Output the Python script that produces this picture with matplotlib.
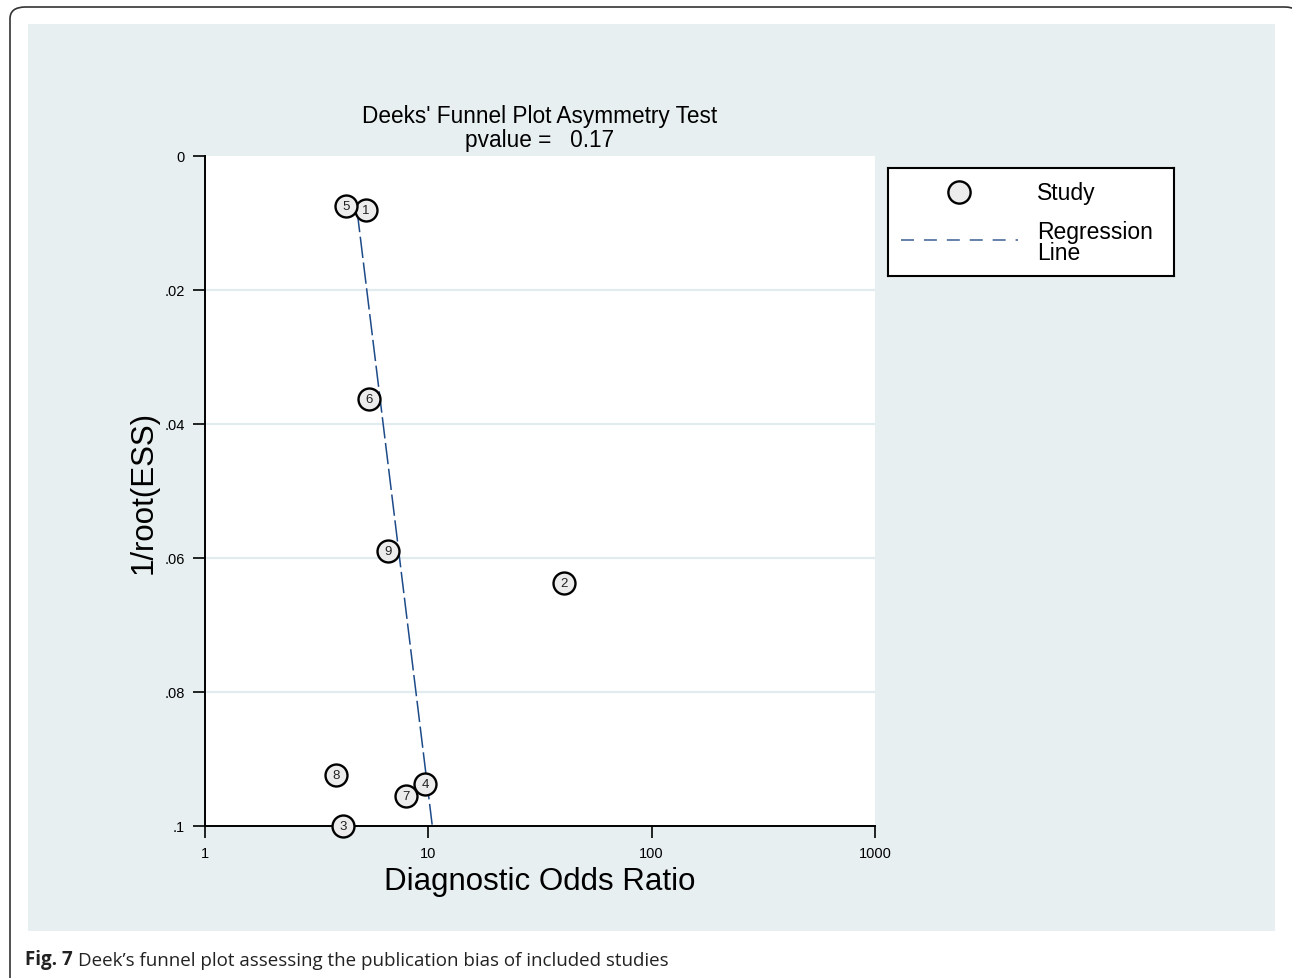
import matplotlib
matplotlib.use("Agg")
import matplotlib.pyplot as plt
import numpy as np
from matplotlib.patches import Rectangle, FancyBboxPatch
from matplotlib.lines import Line2D

# data
study_ids = ["1", "2", "3", "4", "5", "6", "7", "8", "9"]
dor = [5.26, 40.5, 4.15, 9.67, 4.28, 5.42, 7.95, 3.86, 6.60]
inv_root_ess = [0.0081, 0.0637, 0.1000, 0.0937, 0.0075, 0.0363, 0.0955, 0.0924, 0.0590]
# regression line: log10(DOR) = a + b * 1/root(ESS)
reg_a = 0.651
reg_b = 3.668
reg_y = [0.0082, 0.0998]
pvalue = 0.17

ytick_vals = [0, 0.02, 0.04, 0.06, 0.08, 0.1]
ytick_labels = ["0", ".02", ".04", ".06", ".08", ".1"]
xtick_vals = [1, 10, 100, 1000]
xtick_labels = ["1", "10", "100", "1000"]

W, H = 1292, 979
BG = "#e8eff1"
plt.rcParams['font.family'] = ['Liberation Sans', 'DejaVu Sans']

fig = plt.figure(figsize=(W / 100, H / 100), dpi=100)
fig.patch.set_facecolor("white")


def px(x0, y0, x1, y1):
    # pixel box -> figure fraction [l, b, w, h]
    return [x0 / W, 1 - y1 / H, (x1 - x0) / W, (y1 - y0) / H]


# outer rounded frame and grey-blue panel
b = px(10, 8, 1300, 990)
fig.patches.append(FancyBboxPatch((b[0], b[1]), b[2], b[3], boxstyle="round,pad=0,rounding_size=0.012",
                                  transform=fig.transFigure, fc="white", ec="#333333", lw=1.2, zorder=-2))
b = px(28, 25, 1275, 932)
fig.patches.append(Rectangle((b[0], b[1]), b[2], b[3], transform=fig.transFigure,
                             fc=BG, ec="none", zorder=-1))

ax = fig.add_axes(px(205, 157, 875, 827))
ax.set_facecolor("white")
ax.set_xscale("log")
ax.set_xlim(1, 1000)
ax.set_ylim(0.1, 0)

for v in ytick_vals[1:-1]:
    ax.axhline(v, color="#e2ecef", lw=1.6, zorder=1)

# regression line
ry = np.array(reg_y)
rx = 10 ** (reg_a + reg_b * ry)
ax.plot(rx, ry, color="#1d4a88", lw=1.1, linestyle=(0, (14, 3)), zorder=2)

# studies
ax.scatter(dor, inv_root_ess, s=250, facecolor="#ececec", edgecolor="black", linewidth=1.7,
           zorder=3, clip_on=False)
for sid, x, y in zip(study_ids, dor, inv_root_ess):
    ax.text(x, y, sid, ha="center", va="center", fontsize=9.5, color="#222222", zorder=4)

ax.set_yticks(ytick_vals)
ax.set_yticklabels(ytick_labels)
ax.set_xticks(xtick_vals)
ax.set_xticklabels(xtick_labels)
ax.minorticks_off()
ax.tick_params(axis="both", direction="out", length=8.5, width=1.2, labelsize=10.5, pad=6, color="black")
for s in ["top", "right"]:
    ax.spines[s].set_visible(False)
for s in ["left", "bottom"]:
    ax.spines[s].set_linewidth(1.4)

ax.set_title("Deeks' Funnel Plot Asymmetry Test\npvalue =   %.2f" % pvalue, fontsize=16.3,
             linespacing=1.05, pad=7)
ax.set_ylabel("1/root(ESS)", fontsize=22.5, labelpad=4)
ax.set_xlabel("Diagnostic Odds Ratio", fontsize=22.5, labelpad=4)

# legend box
lax = fig.add_axes(px(888, 169, 1174, 277))
lax.set_xlim(888, 1174)
lax.set_ylim(277, 169)
lax.set_xticks([])
lax.set_yticks([])
lax.set_facecolor("white")
for s in lax.spines.values():
    s.set_linewidth(1.5)
lax.add_line(Line2D([959], [193], marker="o", markersize=16, markerfacecolor="#ececec",
                    markeredgecolor="black", markeredgewidth=1.7, linestyle="none"))
lax.add_line(Line2D([901, 1018], [241, 241], color="#3a5f95", lw=1.1, linestyle=(0, (8.5, 6.5))))
lax.text(1037, 194, "Study", fontsize=16.5, va="center", ha="left")
lax.text(1037, 243, "Regression\nLine", fontsize=16.5, va="center", ha="left", linespacing=0.9)

# caption
t1 = fig.text(25 / W, 1 - 970 / H, "Fig. 7", fontsize=13.5, fontweight="bold",
              family=["Open Sans", "DejaVu Sans"], va="bottom", color="#222222")
ax.annotate("Deek\u2019s funnel plot assessing the publication bias of included studies",
            xy=(1, 0), xycoords=t1, xytext=(4, 0), textcoords="offset points",
            fontsize=13.5, family=["Open Sans", "DejaVu Sans"], va="bottom", ha="left",
            color="#222222", annotation_clip=False)

fig.savefig("out.png", dpi=100)
